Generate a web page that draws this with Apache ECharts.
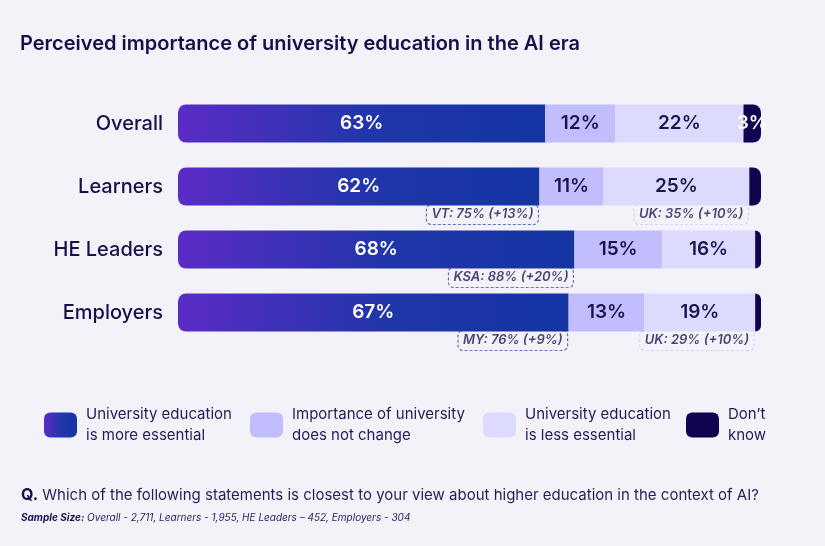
<!DOCTYPE html>
<html>
<head>
<meta charset="utf-8">
<title>Perceived importance of university education in the AI era</title>
<script src="https://cdn.jsdelivr.net/npm/echarts@6/dist/echarts.min.js"></script>
<style>
  html, body { margin: 0; padding: 0; background: #f3f2f9; }
  #chart { width: 825px; height: 546px; }
</style>
</head>
<body>
<div id="chart"></div>
<script>
// 数据
const groups = ['Overall', 'Learners', 'HE Leaders', 'Employers'];
const moreEssential = [63, 62, 68, 67];
const noChange = [12, 11, 15, 13];
const lessEssential = [22, 25, 16, 19];
const dontKnow = [3, 2, 1, 1];

const seriesNames = [
  'University education\nis more essential',
  'Importance of university\ndoes not change',
  'University education\nis less essential',
  'Don\u2019t\nknow'
];

// 国家标注：文字、所在行、对齐到哪一段的末端
const noteText = ['VT: 75% (+13%)', 'UK: 35% (+10%)', 'KSA: 88% (+20%)', 'MY: 76% (+9%)', 'UK: 29% (+10%)'];
const noteGroup = ['Learners', 'Learners', 'HE Leaders', 'Employers', 'Employers'];
const noteSegment = [0, 2, 0, 0, 2];

const INK = '#15104a';
const blueGrad = new echarts.graphic.LinearGradient(0, 0, 1, 0, [
  { offset: 0, color: '#5b2cc6' },
  { offset: 0.55, color: '#1f36a9' },
  { offset: 1, color: '#1535a3' }
]);
const segColors = [blueGrad, '#c2befd', '#dcdafd', '#0e0450'];
const stacks = [moreEssential, noChange, lessEssential, dontKnow];

// 计算标注点位置（段末端的累计值）
const noteData = noteText.map((t, i) => {
  const row = groups.indexOf(noteGroup[i]);
  let end = 0;
  for (let s = 0; s <= noteSegment[i]; s++) end += stacks[s][row];
  return {
    value: [end, noteGroup[i]],
    name: t,
    // 右侧段的标注框使用浅色虚线
    label: noteSegment[i] === 2 ? { borderColor: '#cfccf6' } : {}
  };
});

const chart = echarts.init(document.getElementById('chart'));

const barLabel = (color, minVal) => ({
  show: true,
  position: 'inside',
  color: color,
  fontFamily: 'Inter',
  fontSize: 19,
  fontWeight: 600,
  formatter: (p) => (p.value >= minVal ? p.value + '%' : '')
});

const legendLefts = [44, 250, 483, 686];

const option = {
  backgroundColor: '#f3f2f9',
  animation: false,
  title: [
    {
      text: 'Perceived importance of university education in the AI era',
      left: 20,
      top: 34,
      padding: 0,
      textStyle: { fontFamily: 'Inter', fontSize: 20, fontWeight: 600, color: INK }
    },
    {
      text: '{b|Q.} Which of the following statements is closest to your view about higher education in the context of AI?',
      left: 21,
      top: 487,
      padding: 0,
      textStyle: {
        fontFamily: 'Inter', fontSize: 15, fontWeight: 'normal', color: '#241d5a',
        rich: { b: { fontFamily: 'Inter', fontSize: 16, fontWeight: 700, color: INK } }
      }
    },
    {
      text: '{b|Sample Size:} Overall - 2,711, Learners - 1,955, HE Leaders \u2013 452, Employers - 304',
      left: 21,
      top: 513,
      padding: 0,
      textStyle: {
        fontFamily: 'Inter', fontSize: 10, fontStyle: 'italic', fontWeight: 'normal', color: '#241d5a',
        rich: { b: { fontFamily: 'Inter', fontSize: 10, fontStyle: 'italic', fontWeight: 700, color: INK } }
      }
    }
  ],
  legend: seriesNames.map((n, i) => ({
    data: [{ name: n, itemStyle: { color: segColors[i] } }],
    left: legendLefts[i],
    top: 404,
    padding: 0,
    icon: 'roundRect',
    itemWidth: 33,
    itemHeight: 25,
    selectedMode: false,
    textStyle: {
      fontFamily: 'Inter', fontSize: 15, lineHeight: 21, color: '#211b55',
      padding: [0, 0, 0, 4]
    }
  })),
  grid: { left: 178, right: 64, top: 92, height: 252 },
  xAxis: { type: 'value', min: 0, max: 100, show: false },
  yAxis: {
    type: 'category',
    data: groups,
    inverse: true,
    axisLine: { show: false },
    axisTick: { show: false },
    axisLabel: { margin: 15, fontFamily: 'Inter', fontSize: 20, fontWeight: 500, color: INK }
  },
  series: [
    {
      name: seriesNames[0], type: 'bar', stack: 'all', data: moreEssential, barWidth: 38,
      itemStyle: { color: blueGrad, borderRadius: [8, 0, 0, 8] },
      label: barLabel('#ffffff', 0), z: 3
    },
    {
      name: seriesNames[1], type: 'bar', stack: 'all', data: noChange,
      itemStyle: { color: segColors[1] },
      label: barLabel('#1a1550', 0), z: 3
    },
    {
      name: seriesNames[2], type: 'bar', stack: 'all', data: lessEssential,
      itemStyle: { color: segColors[2] },
      label: barLabel('#1a1550', 0), z: 3
    },
    {
      name: seriesNames[3], type: 'bar', stack: 'all', data: dontKnow,
      itemStyle: { color: segColors[3], borderRadius: [0, 8, 8, 0] },
      label: barLabel('#ffffff', 3), z: 3
    },
    {
      // 标注框
      type: 'scatter',
      data: noteData,
      symbolSize: 0,
      z: 1,
      silent: true,
      label: {
        show: true,
        position: 'left',
        distance: 0,
        offset: [-1, 28],
        formatter: (p) => p.name,
        fontFamily: 'Inter',
        fontSize: 13,
        fontStyle: 'italic',
        fontWeight: 600,
        color: '#1a1550',
        padding: [4, 5, 3, 5],
        borderWidth: 1.2,
        borderType: [3, 2],
        borderRadius: 5,
        borderColor: '#3d52b5'
      },
      itemStyle: { color: 'transparent' }
    }
  ]
};

chart.setOption(option);
window.addEventListener('resize', () => chart.resize());
</script>
</body>
</html>
